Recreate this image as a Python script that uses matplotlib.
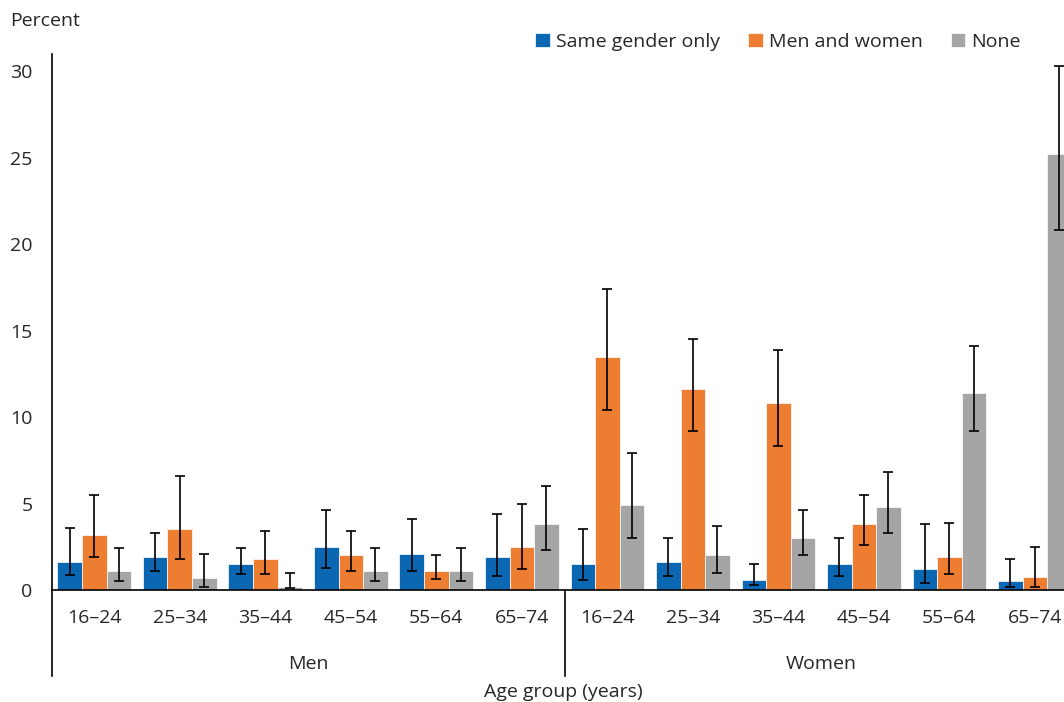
import numpy as np
import matplotlib.pyplot as plt
from matplotlib.transforms import blended_transform_factory

plt.rcParams['font.family'] = ['Open Sans', 'DejaVu Sans']

ages = ['16–24', '25–34', '35–44', '45–54', '55–64', '65–74']
sexes = ['Men', 'Women']
tick_labels = ages + ages

same_gender = [1.6, 1.9, 1.5, 2.5, 2.1, 1.9, 1.5, 1.6, 0.6, 1.5, 1.2, 0.5]
same_lo = [0.85, 1.1, 0.9, 1.3, 1.1, 0.8, 0.6, 0.8, 0.3, 0.8, 0.4, 0.2]
same_hi = [3.6, 3.3, 2.45, 4.6, 4.1, 4.4, 3.5, 3.0, 1.5, 3.0, 3.8, 1.8]

men_women = [3.2, 3.5, 1.8, 2.0, 1.1, 2.5, 13.5, 11.6, 10.8, 3.8, 1.9, 0.75]
both_lo = [1.9, 1.8, 0.9, 1.1, 0.65, 1.2, 10.4, 9.2, 8.3, 2.6, 0.9, 0.2]
both_hi = [5.5, 6.6, 3.4, 3.4, 2.0, 5.0, 17.4, 14.5, 13.9, 5.5, 3.9, 2.5]

none = [1.1, 0.7, 0.2, 1.1, 1.1, 3.8, 4.9, 2.0, 3.0, 4.8, 11.4, 25.2]
none_lo = [0.5, 0.2, 0.1, 0.5, 0.5, 2.3, 3.0, 1.0, 2.0, 3.3, 9.2, 20.8]
none_hi = [2.45, 2.1, 1.0, 2.45, 2.45, 6.0, 7.9, 3.7, 4.6, 6.8, 14.1, 30.3]

series = [
    ('Same gender only', same_gender, same_lo, same_hi, '#0B67B2'),
    ('Men and women', men_women, both_lo, both_hi, '#ED7D31'),
    ('None', none, none_lo, none_hi, '#A5A5A5'),
]

text_col = '#262626'
fs = 14
fig = plt.figure(figsize=(10.64, 7.02), dpi=100)
ax = fig.add_axes([52 / 1064, 112 / 702, 1 - 52 / 1064, 536 / 702])

x = np.arange(len(tick_labels))
w = 0.287
for k, (name, vals, lo, hi, col) in enumerate(series):
    vals = np.array(vals)
    err = [vals - np.array(lo), np.array(hi) - vals]
    pos = x + (k - 1) * w
    ax.bar(pos, vals, width=w, color=col, edgecolor='white', linewidth=0.5,
           label=name, zorder=2)
    ax.errorbar(pos, vals, yerr=err, fmt='none', ecolor='black',
                elinewidth=1.2, capsize=3.5, capthick=1.2, zorder=3)

ax.set_xlim(-0.494, 11.34)
ax.set_ylim(0, 31)
ax.set_yticks([0, 5, 10, 15, 20, 25, 30])
ax.set_xticks(x)
ax.set_xticklabels(tick_labels)
ax.tick_params(axis='both', length=0, labelsize=fs, colors=text_col)
ax.tick_params(axis='x', pad=14)
ax.tick_params(axis='y', pad=14)
for s in ['top', 'right']:
    ax.spines[s].set_visible(False)
for s in ['left', 'bottom']:
    ax.spines[s].set_linewidth(1.2)
    ax.spines[s].set_color('black')

# group dividers below the baseline
trans = blended_transform_factory(ax.transData, ax.transAxes)
bottom_ax = -86 / 536
for xd in [-0.494, 5.5]:
    ax.plot([xd, xd], [0, bottom_ax], transform=trans, color='black',
            lw=1.2, clip_on=False)
for i, sx in enumerate(sexes):
    ax.text(2.5 + 6 * i, -74 / 536, sx, transform=trans, ha='center',
            va='center', fontsize=fs, color=text_col)

fig.text(563 / 1064, 1 - 692 / 702, 'Age group (years)', ha='center',
         va='center', fontsize=fs, color=text_col)
fig.text(10 / 1064, 1 - 21 / 702, 'Percent', ha='left', va='center',
         fontsize=fs, color=text_col)

fig.legend(loc='center right', bbox_to_anchor=(1038 / 1064, 1 - 42 / 702),
           ncol=3, frameon=False, fontsize=fs, handlelength=0.75,
           handleheight=0.75, handletextpad=0.3, columnspacing=1.45,
           labelcolor=text_col)

fig.savefig('out.png', dpi=100)
